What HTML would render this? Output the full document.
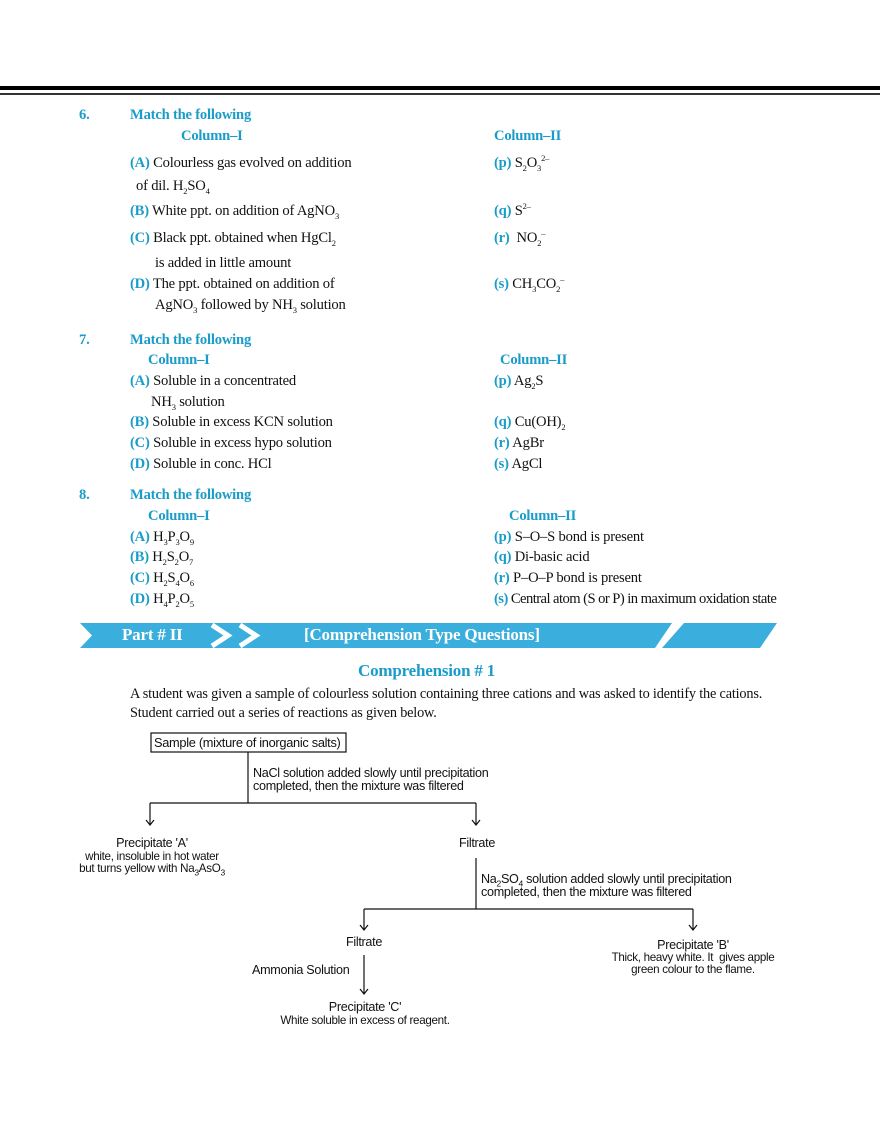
<!DOCTYPE html>
<html><head><meta charset="utf-8"><style>
body{margin:0;width:880px;height:1139px;background:#fff;position:relative;overflow:hidden;font-family:"Liberation Serif",serif;font-size:14.6px;color:#111}
.t{position:absolute;white-space:nowrap;line-height:16px;letter-spacing:-0.2px}
.b{color:#1a9cc9;font-weight:bold}
.s{font-family:"Liberation Sans",sans-serif;font-size:12.6px;letter-spacing:-0.3px;line-height:13px}
sub,sup{font-size:8.5px;line-height:0}
.c{transform:translateX(-50%);text-align:center}
</style></head><body>
<div style="position:absolute;left:0;top:86px;width:880px;height:4px;background:#000"></div>
<div style="position:absolute;left:0;top:93px;width:880px;height:1.5px;background:#333"></div>

<div class="t b" style="left:79px;top:107px">6.</div>
<div class="t b" style="left:130px;top:107px">Match the following</div>
<div class="t b" style="left:181px;top:128px">Column–I</div>
<div class="t b" style="left:494px;top:128px">Column–II</div>
<div class="t" style="left:130px;top:155px"><span class="b">(A)</span> Colourless gas evolved on addition</div>
<div class="t" style="left:136px;top:178px">of dil. H<sub>2</sub>SO<sub>4</sub></div>
<div class="t" style="left:130px;top:203px"><span class="b">(B)</span> White ppt. on addition of AgNO<sub>3</sub></div>
<div class="t" style="left:130px;top:230px"><span class="b">(C)</span> Black ppt. obtained when HgCl<sub>2</sub></div>
<div class="t" style="left:155px;top:255px">is added in little amount</div>
<div class="t" style="left:130px;top:276px"><span class="b">(D)</span> The ppt. obtained on addition of</div>
<div class="t" style="left:155px;top:297px">AgNO<sub>3</sub> followed by NH<sub>3</sub> solution</div>
<div class="t" style="left:494px;top:155px"><span class="b">(p)</span> S<sub>2</sub>O<sub>3</sub><sup>2–</sup></div>
<div class="t" style="left:494px;top:203px"><span class="b">(q)</span> S<sup>2–</sup></div>
<div class="t" style="left:494px;top:230px"><span class="b">(r)</span> &nbsp;NO<sub>2</sub><sup>–</sup></div>
<div class="t" style="left:494px;top:276px"><span class="b">(s)</span> CH<sub>3</sub>CO<sub>2</sub><sup>–</sup></div>

<div class="t b" style="left:79px;top:332px">7.</div>
<div class="t b" style="left:130px;top:332px">Match the following</div>
<div class="t b" style="left:148px;top:352px">Column–I</div>
<div class="t b" style="left:500px;top:352px">Column–II</div>
<div class="t" style="left:130px;top:373px"><span class="b">(A)</span> Soluble in a concentrated</div>
<div class="t" style="left:151px;top:394px">NH<sub>3</sub> solution</div>
<div class="t" style="left:130px;top:414px"><span class="b">(B)</span> Soluble in excess KCN solution</div>
<div class="t" style="left:130px;top:435px"><span class="b">(C)</span> Soluble in excess hypo solution</div>
<div class="t" style="left:130px;top:456px"><span class="b">(D)</span> Soluble in conc. HCl</div>
<div class="t" style="left:494px;top:373px"><span class="b">(p)</span> Ag<sub>2</sub>S</div>
<div class="t" style="left:494px;top:414px"><span class="b">(q)</span> Cu(OH)<sub>2</sub></div>
<div class="t" style="left:494px;top:435px"><span class="b">(r)</span> AgBr</div>
<div class="t" style="left:494px;top:456px"><span class="b">(s)</span> AgCl</div>

<div class="t b" style="left:79px;top:487px">8.</div>
<div class="t b" style="left:130px;top:487px">Match the following</div>
<div class="t b" style="left:148px;top:508px">Column–I</div>
<div class="t b" style="left:509px;top:508px">Column–II</div>
<div class="t" style="left:130px;top:529px"><span class="b">(A)</span> H<sub>3</sub>P<sub>3</sub>O<sub>9</sub></div>
<div class="t" style="left:130px;top:549px"><span class="b">(B)</span> H<sub>2</sub>S<sub>2</sub>O<sub>7</sub></div>
<div class="t" style="left:130px;top:570px"><span class="b">(C)</span> H<sub>2</sub>S<sub>4</sub>O<sub>6</sub></div>
<div class="t" style="left:130px;top:591px"><span class="b">(D)</span> H<sub>4</sub>P<sub>2</sub>O<sub>5</sub></div>
<div class="t" style="left:494px;top:529px"><span class="b">(p)</span> S–O–S bond is present</div>
<div class="t" style="left:494px;top:549px"><span class="b">(q)</span> Di-basic acid</div>
<div class="t" style="left:494px;top:570px"><span class="b">(r)</span> P–O–P bond is present</div>
<div class="t" style="left:494px;top:591px;letter-spacing:-0.55px"><span class="b">(s)</span> Central atom (S or P) in maximum oxidation state</div>

<svg style="position:absolute;left:0;top:0" width="880" height="1139">
<polygon points="80,623 672,623 655,648 80,648 92,635.5" fill="#3aaedc"/>
<polygon points="684,623 777,623 760,648 662,648" fill="#3aaedc"/>
<polyline points="212,625 228,635.5 212,646" fill="none" stroke="#fff" stroke-width="5"/>
<polyline points="240,625 256,635.5 240,646" fill="none" stroke="#fff" stroke-width="5"/>
<g stroke="#111" stroke-width="1.2" fill="none">
<rect x="151" y="733" width="195" height="19"/>
<line x1="248" y1="752" x2="248" y2="803"/>
<line x1="150" y1="803" x2="476" y2="803"/>
<line x1="150" y1="803" x2="150" y2="825"/><polyline points="146,820 150,825 154,820"/>
<line x1="476" y1="803" x2="476" y2="825"/><polyline points="472,820 476,825 480,820"/>
<line x1="476" y1="858" x2="476" y2="909"/>
<line x1="364" y1="909" x2="693" y2="909"/>
<line x1="364" y1="909" x2="364" y2="930"/><polyline points="360,925 364,930 368,925"/>
<line x1="693" y1="909" x2="693" y2="930"/><polyline points="689,925 693,930 697,925"/>
<line x1="364" y1="955" x2="364" y2="994"/><polyline points="360,989 364,994 368,989"/>
</g>
</svg>
<div class="t b" style="left:122px;top:625px;color:#fff;font-size:17px;line-height:20px">Part # II</div>
<div class="t b" style="left:304px;top:625px;color:#fff;font-size:17px;line-height:20px">[Comprehension Type Questions]</div>

<div class="t b" style="left:358px;top:661px;font-size:17px;line-height:20px">Comprehension # 1</div>
<div class="t" style="left:130px;top:686px;letter-spacing:-0.19px;font-size:14.3px">A student was given a sample of colourless solution containing three cations and was asked to identify the cations.</div>
<div class="t" style="left:130px;top:705px;letter-spacing:-0.19px;font-size:14.3px">Student carried out a series of reactions as given below.</div>

<div class="t s" style="left:154px;top:736px;font-size:12.8px">Sample (mixture of inorganic salts)</div>
<div class="t s" style="left:253px;top:767px">NaCl solution added slowly until precipitation<br>completed, then the mixture was filtered</div>
<div class="t s c" style="left:152px;top:837px">Precipitate 'A'</div>
<div class="t s c" style="left:152px;top:851px;font-size:11.6px;line-height:12px">white, insoluble in hot water<br>but turns yellow with Na<sub>3</sub>AsO<sub>3</sub></div>
<div class="t s c" style="left:477px;top:837px">Filtrate</div>
<div class="t s" style="left:481px;top:873px">Na<sub>2</sub>SO<sub>4</sub> solution added slowly until precipitation<br>completed, then the mixture was filtered</div>
<div class="t s c" style="left:364px;top:936px">Filtrate</div>
<div class="t s" style="left:252px;top:964px">Ammonia Solution</div>
<div class="t s c" style="left:365px;top:1001px">Precipitate 'C'</div>
<div class="t s c" style="left:365px;top:1015px;font-size:11.6px;line-height:12px">White soluble in excess of reagent.</div>
<div class="t s c" style="left:693px;top:939px">Precipitate 'B'</div>
<div class="t s c" style="left:693px;top:952px;font-size:11.6px;line-height:12px">Thick, heavy white. It &nbsp;gives apple<br>green colour to the flame.</div>
</body></html>
